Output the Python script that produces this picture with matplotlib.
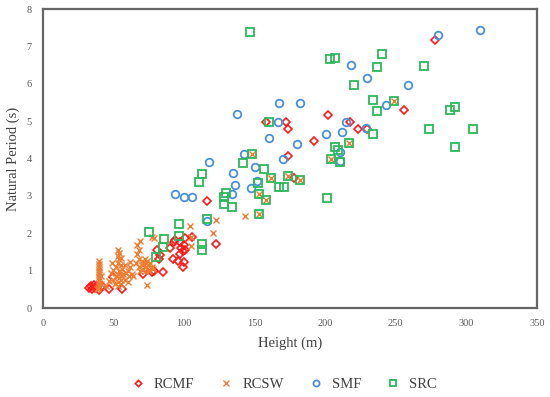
import matplotlib.pyplot as plt

# 數據 (高度 m, 自然週期 s)
rcmf_h = [33, 34, 35, 36, 37, 38, 40, 42, 47, 50, 56, 71, 77, 79, 81, 82, 83, 85, 90,
          92, 93, 93.5, 96, 97, 97, 98, 99, 99, 100, 100, 101, 101, 105.6, 116, 122.6,
          158, 172, 174, 174, 178, 192, 202, 217.6, 223, 230, 256, 278]
rcmf_t = [0.53, 0.58, 0.5, 0.62, 0.55, 0.6, 0.48, 0.58, 0.5, 0.82, 0.5, 0.92, 0.97, 1.0, 1.55, 1.3, 1.42, 0.96, 1.6,
          1.31, 1.77, 1.83, 1.25, 1.45, 1.77, 1.6, 1.1, 1.52, 1.7, 1.23, 1.87, 1.55, 1.9, 2.86, 1.71,
          4.97, 4.97, 4.78, 4.08, 3.47, 4.47, 5.17, 4.97, 4.78, 4.78, 5.29, 7.17]

rcsw_h = [38, 39, 40, 40, 40, 40, 40, 40, 40, 40, 40, 40, 41, 41,
          45, 47, 48, 49, 50, 50, 51, 52, 52, 53, 53, 53, 53, 53, 53, 54, 54, 54, 54,
          55, 55, 55, 55, 55, 56, 56, 57, 58, 58, 59, 60, 60, 61, 62, 62, 63, 64,
          66, 67, 67, 68, 68, 68, 69, 69, 70, 70, 71, 71, 72, 72, 73, 73, 74, 74, 75, 75, 76, 77, 78,
          73.5, 77, 78.7, 104, 104.6, 105, 120.5, 122.4, 143,
          148, 153, 153, 158, 161.6, 174, 182, 204, 217, 249]
rcsw_t = [0.5, 0.55, 0.6, 0.68, 0.75, 0.82, 0.9, 0.97, 1.03, 1.1, 1.17, 1.25, 0.65, 0.85,
          0.6, 0.72, 0.95, 1.21, 0.75, 1.02, 0.65, 0.85, 1.1, 0.6, 0.7, 0.9, 1.2, 1.4, 1.55, 0.8, 1.0, 1.3, 1.48,
          0.65, 0.75, 0.95, 1.15, 1.35, 0.85, 1.05, 0.9, 0.75, 1.15, 0.95, 0.7, 1.0, 0.85, 1.1, 1.24, 0.9, 0.85,
          1.2, 1.45, 1.7, 1.1, 1.3, 1.55, 1.0, 1.8, 1.15, 1.25, 1.05, 1.2, 1.0, 1.3, 1.1, 1.2, 1.05, 1.25, 1.0, 1.15, 1.2, 1.1, 1.05,
          0.62, 1.91, 1.87, 2.19, 1.66, 1.9, 2.0, 2.35, 2.47,
          4.13, 3.06, 2.52, 2.89, 3.49, 3.53, 3.42, 4.0, 4.41, 5.53]

smf_h = [93.5, 100, 105.6, 116, 118, 134, 134.6, 136, 137.5, 142.5, 147.5, 150, 152, 160,
         166.5, 167, 170, 180, 182, 200.6, 210.5, 210.5, 212, 215, 218, 229, 230, 243, 259, 280, 310]
smf_t = [3.04, 2.97, 2.97, 2.32, 3.9, 3.04, 3.62, 3.3, 5.19, 4.12, 3.2, 3.77, 3.4, 4.55,
         4.97, 5.48, 3.98, 4.38, 5.48, 4.65, 4.17, 3.93, 4.7, 4.98, 6.5, 4.82, 6.17, 5.43, 5.98, 7.3, 7.45]

src_h = [75, 80, 85, 86, 96.4, 96.4, 110.6, 112.7, 112.7, 112.7, 116, 128, 128, 130, 134, 141.7,
         146.7, 148, 152.5, 153, 153, 157, 158, 160, 161.6, 167, 171, 174, 182, 201, 203.4, 207,
         204, 207, 209, 210.5, 217, 220.5, 234, 234, 236.5, 237, 240, 249, 270, 273.5, 288.5, 292,
         292, 304.7]
src_t = [2.04, 1.36, 1.64, 1.84, 2.25, 1.93, 3.37, 3.58, 1.72, 1.55, 2.38, 2.97, 2.78, 3.07, 2.7, 3.88,
         7.38, 4.13, 3.35, 3.06, 2.52, 3.71, 2.89, 4.97, 3.49, 3.25, 3.25, 3.53, 3.42, 2.95, 6.66, 6.68,
         4.0, 4.3, 4.22, 3.9, 4.41, 5.98, 5.57, 4.65, 6.46, 5.27, 6.79, 5.53, 6.48, 4.79, 5.29, 5.37,
         4.3, 4.79]

plt.rcParams['font.family'] = ['Liberation Serif', 'DejaVu Serif']

fig = plt.figure(figsize=(5.5, 3.97), dpi=100)
ax = fig.add_axes([0.078, 0.224, 0.898, 0.753])

ax.plot(rcmf_h, rcmf_t, 'D', ms=4, mfc='none', mec='#FF1A1A', mew=1.2, label='RCMF', ls='none')
ax.plot(rcsw_h, rcsw_t, 'x', ms=5, mec='#ED7D31', mew=1.0, label='RCSW', ls='none')
ax.plot(smf_h, smf_t, 'o', ms=5.5, mfc='none', mec='#4A90D9', mew=1.3, label='SMF', ls='none')
ax.plot(src_h, src_t, 's', ms=5.2, mfc='none', mec='#2DB85A', mew=1.3, label='SRC', ls='none')

ax.set_xlim(0, 350)
ax.set_ylim(0, 8)
ax.set_xticks(range(0, 351, 50))
ax.set_yticks(range(0, 9))
ax.tick_params(length=0, labelsize=7.5, labelcolor='#595959', pad=8)
for s in ax.spines.values():
    s.set_color('#666666')
    s.set_linewidth(1.6)

ax.set_xlabel('Height (m)', fontsize=10.5, color='#404040', labelpad=6)
ax.set_ylabel('Natural Period (s)', fontsize=10.5, color='#404040', labelpad=5)

ax.legend(loc='center', bbox_to_anchor=(0.48, -0.255), ncol=4, frameon=False,
          fontsize=10.5, handletextpad=0.1, columnspacing=1.2, markerscale=0.8,
          labelcolor='#404040')

fig.savefig('out.png', dpi=100)
